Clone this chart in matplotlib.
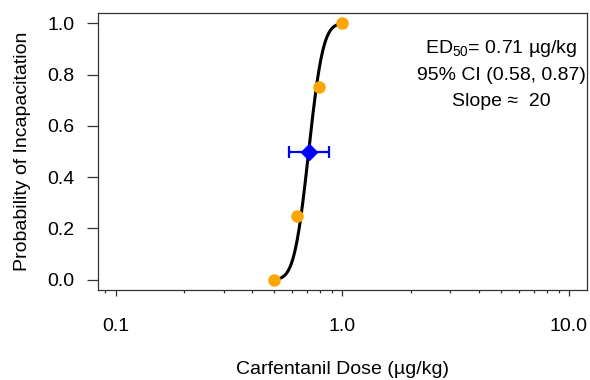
import math
import matplotlib
matplotlib.use("Agg")
import matplotlib.pyplot as plt
import numpy as np
from matplotlib.ticker import LogLocator, FixedLocator, NullFormatter

plt.rcParams['font.family'] = ['Liberation Sans', 'DejaVu Sans']
plt.rcParams['mathtext.fontset'] = 'custom'
plt.rcParams['mathtext.rm'] = 'Liberation Sans'
plt.rcParams['mathtext.it'] = 'Liberation Sans'

# observed doses and fraction incapacitated
doses = [0.5, 0.63, 0.79, 1.0]
prob = [0.0, 0.25, 0.75, 1.0]

# fitted probit parameters
ed50 = 0.71
ci_low, ci_high = 0.58, 0.87
slope = 20


def probit(x):
    z = slope * (np.log10(x) - math.log10(ed50))
    return 0.5 * (1 + np.array([math.erf(v / math.sqrt(2)) for v in z]))


fig = plt.figure(figsize=(5.9, 3.8), dpi=100)
ax = fig.add_axes([0.1656, 0.2368, 0.8294, 0.729])

xs = np.logspace(math.log10(min(doses)), math.log10(max(doses)), 200)
ax.plot(xs, probit(xs), color='black', lw=2.2, zorder=2)
ax.plot(doses, prob, 'o', color='#FFA500', ms=9, mec='none', zorder=3)
ax.errorbar([ed50], [0.5], xerr=[[ed50 - ci_low], [ci_high - ed50]],
            fmt='D', color='#0000FF', ms=8, elinewidth=1.6, capsize=4.5,
            capthick=1.6, zorder=4)

ax.set_xscale('log')
ax.set_xlim(10 ** -1.08, 10 ** 1.08)
ax.set_ylim(-0.04, 1.04)
ax.xaxis.set_major_locator(FixedLocator([0.1, 1.0, 10.0]))
ax.set_xticklabels(['0.1', '1.0', '10.0'])
ax.xaxis.set_minor_locator(LogLocator(base=10, subs=np.arange(2, 10)))
ax.xaxis.set_minor_formatter(NullFormatter())
ax.set_yticks([0.0, 0.2, 0.4, 0.6, 0.8, 1.0])
ax.set_yticklabels(['0.0', '0.2', '0.4', '0.6', '0.8', '1.0'])

ax.tick_params(axis='y', length=8, width=0.9, labelsize=14, pad=8.5, color='#333333')
ax.tick_params(axis='x', which='major', length=4, width=0.9, labelsize=14, pad=16, color='#333333')
ax.tick_params(axis='x', which='minor', length=2.5, width=0.9, color='#333333')
for s in ax.spines.values():
    s.set_linewidth(0.9)
    s.set_color('#333333')

ax.set_xlabel('Carfentanil Dose (µg/kg)', fontsize=14, labelpad=19)
ax.set_ylabel('Probability of Incapacitation', fontsize=14, labelpad=12)

ax.text(0.825, 0.872, r'ED$_{50}$= 0.71 µg/kg', transform=ax.transAxes,
        ha='center', va='center', fontsize=14)
ax.text(0.825, 0.776, '95% CI (0.58, 0.87)', transform=ax.transAxes,
        ha='center', va='center', fontsize=14)
ax.text(0.825, 0.682, 'Slope \u2248  20', transform=ax.transAxes,
        ha='center', va='center', fontsize=14)

fig.savefig('out.png', dpi=100)
